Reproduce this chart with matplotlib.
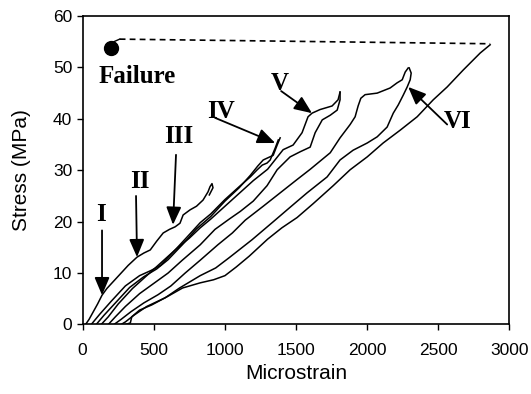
import matplotlib
matplotlib.use('Agg')
import matplotlib.pyplot as plt

# stress-strain curves (microstrain, MPa)
x_c1 = [20, 45, 75, 105, 136, 170, 220, 270, 320, 382, 430, 475, 520, 566, 610, 650, 684, 706, 755, 800, 846, 881, 895, 909, 916, 890]
y_c1 = [0, 1.0, 2.5, 4.0, 5.7, 7.0, 8.5, 10.0, 11.5, 13.1, 13.9, 14.5, 16.2, 17.8, 18.5, 19.0, 19.7, 21.3, 22.3, 23.0, 24.2, 25.8, 26.8, 27.4, 26.6, 25.2]

x_iva = [60, 120, 200, 300, 400, 480, 547, 650, 750, 826, 900, 1000, 1100, 1178, 1227, 1262, 1296, 1318, 1353, 1375]
y_iva = [0, 2.0, 4.5, 7.5, 9.5, 10.5, 11.5, 14.5, 17.5, 19.8, 21.5, 24.3, 26.8, 28.7, 30.1, 31.0, 31.4, 32.0, 34.3, 35.9]

x_ivb = [95, 150, 230, 330, 430, 520, 600, 700, 800, 900, 1000, 1100, 1178, 1230, 1269, 1339, 1367, 1388]
y_ivb = [0, 1.8, 4.2, 7.2, 9.3, 10.8, 12.6, 15.5, 18.6, 21.0, 24.0, 26.6, 29.0, 30.8, 32.0, 32.9, 34.9, 36.3]

x_va = [130, 180, 250, 350, 450, 550, 650, 750, 826, 900, 1000, 1100, 1200, 1300, 1409, 1479, 1542, 1584, 1612, 1668, 1753, 1795, 1809]
y_va = [0, 1.5, 4.0, 7.0, 9.5, 12.0, 14.5, 16.8, 18.8, 20.5, 23.0, 25.5, 28.0, 30.2, 34.0, 34.9, 37.3, 40.4, 41.1, 41.8, 42.5, 43.7, 45.2]

x_vb = [180, 230, 300, 400, 500, 600, 700, 826, 930, 1030, 1108, 1199, 1296, 1367, 1458, 1529, 1599, 1634, 1684, 1740, 1789, 1809, 1809]
y_vb = [0, 1.5, 3.5, 6.0, 8.0, 10.0, 12.5, 15.5, 18.5, 20.5, 22.0, 24.0, 27.0, 30.1, 32.6, 33.6, 34.5, 37.3, 39.8, 40.7, 41.7, 43.7, 45.2]

x_6a = [220, 270, 340, 430, 530, 620, 720, 826, 950, 1052, 1143, 1269, 1388, 1507, 1600, 1740, 1809, 1880, 1915, 1936, 1955, 1985, 2070, 2161, 2210, 2246, 2267, 2288]
y_6a = [0, 1.0, 2.5, 4.2, 5.8, 7.5, 10.0, 12.5, 15.5, 17.8, 20.3, 23.0, 25.6, 28.2, 30.2, 33.4, 36.3, 38.9, 40.4, 42.5, 44.0, 44.7, 45.0, 46.0, 47.0, 47.6, 49.1, 49.9]

x_6b = [270, 300, 360, 450, 580, 681, 826, 935, 1030, 1191, 1340, 1458, 1577, 1718, 1809, 1901, 2000, 2070, 2140, 2183, 2218, 2253, 2281, 2302, 2309, 2295]
y_6b = [0, 0.5, 1.8, 3.5, 5.2, 7.1, 9.5, 11.0, 13.0, 16.5, 20.0, 22.8, 25.6, 28.7, 32.0, 33.9, 35.3, 36.5, 38.4, 41.1, 42.7, 44.6, 46.2, 47.6, 48.9, 49.9]

x_long = [300, 335, 345, 400, 485, 600, 702, 826, 920, 1000, 1080, 1171, 1300, 1400, 1507, 1620, 1761, 1880, 2000, 2112, 2232, 2351, 2464, 2562, 2675, 2794, 2864]
y_long = [0, 0.3, 1.5, 2.8, 3.8, 5.5, 7.1, 8.1, 8.7, 9.5, 11.2, 13.3, 16.6, 18.8, 20.8, 23.5, 27.0, 30.1, 32.6, 35.3, 37.8, 40.4, 43.7, 46.2, 49.5, 52.8, 54.4]

curves = [(x_c1, y_c1), (x_iva, y_iva), (x_ivb, y_ivb), (x_va, y_va),
          (x_vb, y_vb), (x_6a, y_6a), (x_6b, y_6b), (x_long, y_long)]

# failure line
fail_x = [260, 2864]
fail_y = [55.5, 54.6]
fail_pt = (199, 53.8)

# labels: text, text position, arrow start, arrow tip
labels = ['I', 'II', 'III', 'IV', 'V', 'VI']
label_pos = [(129, 21.3), (403, 27.9), (678, 36.5), (973, 41.5), (1388, 46.8), (2632, 39.4)]
arrow_from = [(136, 18.3), (375, 25.0), (656, 33.0), (930, 40.2), (1395, 45.4), (2562, 38.9)]
arrow_to = [(136, 5.7), (382, 13.1), (635, 19.4), (1353, 35.3), (1612, 41.1), (2288, 46.2)]

fig = plt.figure(figsize=(5.31, 3.94), dpi=100)
ax = fig.add_axes([0.1557, 0.1764, 0.8038, 0.783])

for xs, ys in curves:
    ax.plot(xs, ys, color='black', lw=1.1)

ax.plot(fail_x, fail_y, color='black', lw=1.2, linestyle=(0, (3.5, 2.5)))
ax.plot([fail_pt[0] + 20, fail_x[0]], [fail_pt[1] + 1.2, fail_y[0]], color='black', lw=1.0)
ax.plot(*fail_pt, 'o', color='black', markersize=10)

serif = {'family': 'Liberation Serif', 'weight': 'bold', 'size': 18}
ax.text(382, 48.2, 'Failure', ha='center', va='center', fontdict=serif)
for lab, p, a, b in zip(labels, label_pos, arrow_from, arrow_to):
    ax.text(p[0], p[1], lab, ha='center', va='center', fontdict=serif)
    ax.annotate('', xy=b, xytext=a,
                arrowprops=dict(arrowstyle='-|>,head_length=0.9,head_width=0.38',
                                color='black', lw=1.3, mutation_scale=12,
                                shrinkA=0, shrinkB=0))

ax.set_xlim(0, 3000)
ax.set_ylim(0, 60)
ax.set_xticks([0, 500, 1000, 1500, 2000, 2500, 3000])
ax.set_yticks([0, 10, 20, 30, 40, 50, 60])
for s in ax.spines.values():
    s.set_linewidth(1.2)
ax.tick_params(direction='out', length=4, width=1.0, labelsize=12.5,
               top=False, right=False)
ax.tick_params(axis='x', pad=9)
for t in ax.get_xticklabels() + ax.get_yticklabels():
    t.set_fontfamily('Liberation Sans')
ax.set_xlabel('Microstrain', fontsize=15, family='Liberation Sans', labelpad=5)
ax.set_ylabel('Stress (MPa)', fontsize=15, family='Liberation Sans', labelpad=16)

fig.savefig('out.png', dpi=100)
